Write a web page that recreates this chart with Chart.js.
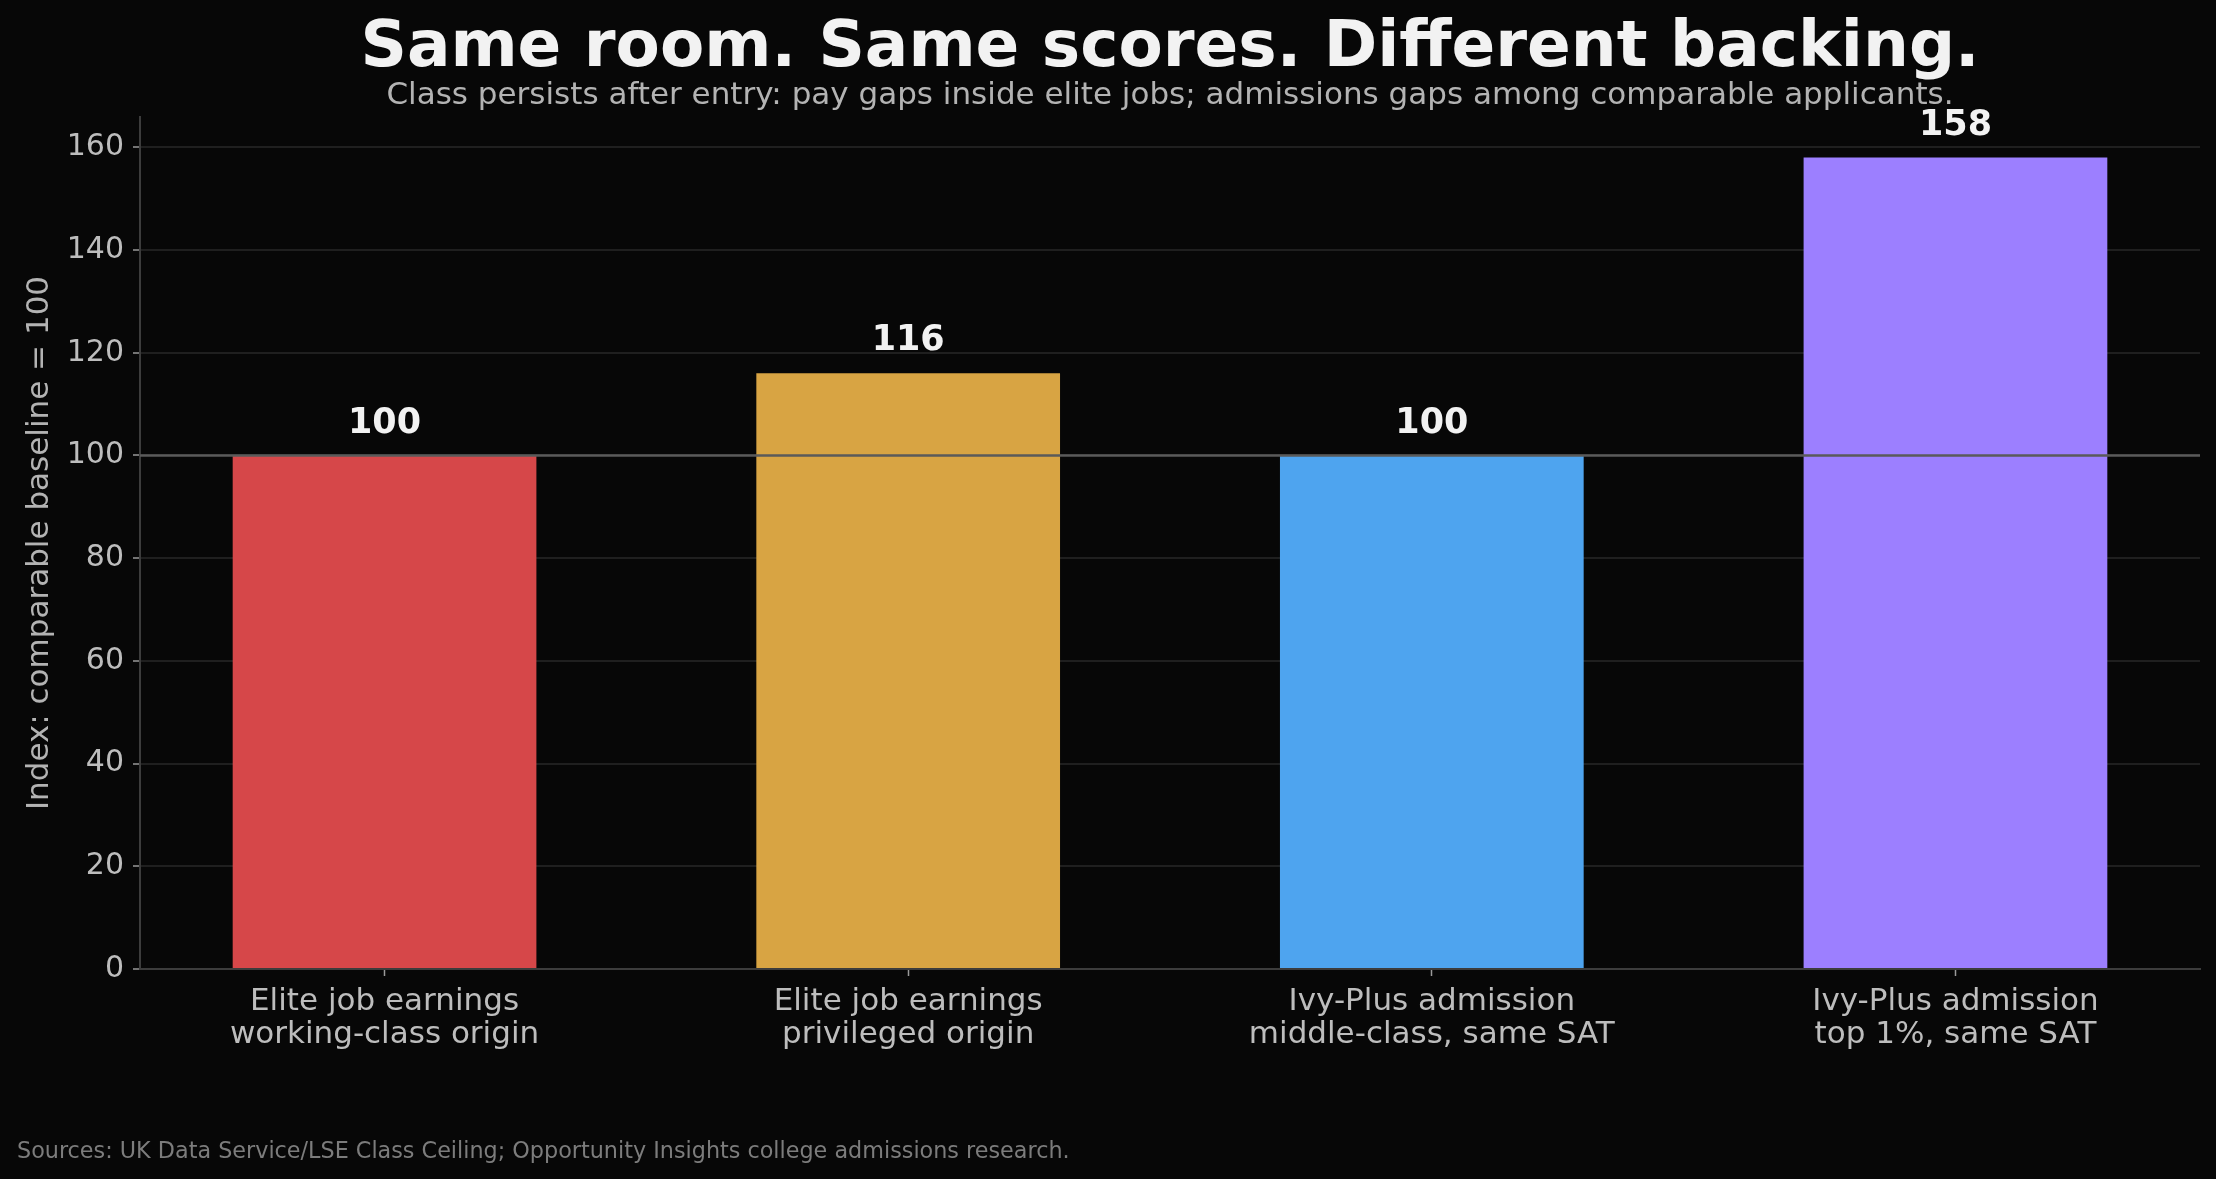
<!DOCTYPE html>
<html>
<head>
<meta charset="utf-8">
<script src="https://cdn.jsdelivr.net/npm/chart.js@4.4.1/dist/chart.umd.min.js"></script>
<style>
  html, body { margin: 0; padding: 0; background: #070707; }
  canvas { display: block; }
</style>
</head>
<body>
<canvas id="chart" width="2216" height="1179"></canvas>
<script>
// category labels (two lines each)
const categories = [
  ['Elite job earnings', 'working-class origin'],
  ['Elite job earnings', 'privileged origin'],
  ['Ivy-Plus admission', 'middle-class, same SAT'],
  ['Ivy-Plus admission', 'top 1%, same SAT']
];
const values = [100, 116, 100, 158];
const barColors = ['#d64749', '#d8a443', '#4ea4ef', '#9c7fff'];
const baseline = 100;

const FONT = "'DejaVu Sans', sans-serif";
const canvas = document.getElementById('chart');
const ctx = canvas.getContext('2d');

const bgPlugin = {
  id: 'bg',
  beforeDraw(chart) {
    const c = chart.ctx;
    c.save();
    c.fillStyle = '#070707';
    c.fillRect(0, 0, chart.width, chart.height);
    c.restore();
  }
};

// reference line at 100 + value labels + source note
const extras = {
  id: 'extras',
  afterDatasetsDraw(chart) {
    const c = chart.ctx;
    const y = chart.scales.y.getPixelForValue(baseline);
    const area = chart.chartArea;
    c.save();
    c.strokeStyle = '#5a5a5a';
    c.lineWidth = 2.5;
    c.beginPath();
    c.moveTo(area.left, y);
    c.lineTo(area.right, y);
    c.stroke();

    c.fillStyle = '#f2f2f2';
    c.font = 'bold 35px ' + FONT;
    c.textAlign = 'center';
    c.textBaseline = 'middle';
    chart.getDatasetMeta(0).data.forEach((bar, i) => {
      c.fillText(String(values[i]), bar.x, bar.y - 32);
    });
    c.restore();
  },
  afterDraw(chart) {
    const c = chart.ctx;
    c.save();
    c.fillStyle = '#7c7c7c';
    c.font = '22.3px ' + FONT;
    c.textAlign = 'left';
    c.textBaseline = 'middle';
    c.fillText('Sources: UK Data Service/LSE Class Ceiling; Opportunity Insights college admissions research.', 17, 1152);
    c.restore();
  }
};

new Chart(ctx, {
  type: 'bar',
  data: {
    datasets: [{
      data: values.map((v, i) => ({ x: i, y: v })),
      backgroundColor: barColors,
      borderWidth: 0,
      barPercentage: 0.58,
      categoryPercentage: 1.0
    }]
  },
  options: {
    responsive: false,
    animation: false,
    layout: { padding: { left: 0, right: 16, top: 0, bottom: 0 } },
    plugins: {
      legend: { display: false },
      tooltip: { enabled: false },
      title: {
        display: true,
        text: 'Same room. Same scores. Different backing.',
        color: '#f2f2f2',
        fullSize: false,
        font: { family: FONT, size: 64.5, weight: 'bold', lineHeight: 0.98 },
        padding: { top: 17.5, bottom: 0 }
      },
      subtitle: {
        display: true,
        text: 'Class persists after entry: pay gaps inside elite jobs; admissions gaps among comparable applicants.',
        color: '#b3b3b3',
        fullSize: false,
        font: { family: FONT, size: 31, lineHeight: 1.0 },
        padding: { top: 0, bottom: 5.3 }
      }
    },
    scales: {
      x: {
        type: 'linear',
        offset: false,
        min: -0.467,
        max: 3.467,
        afterFit: s => { s.height = 210; },
        afterBuildTicks: s => { s.ticks = categories.map((c, i) => ({ value: i })); },
        grid: {
          offset: false,
          drawOnChartArea: false,
          drawTicks: true,
          tickLength: 7,
          tickColor: '#9a9a9a',
          tickWidth: 1.5
        },
        border: { color: '#3c3c3c', width: 2 },
        ticks: {
          color: '#bdbdbd',
          font: { family: FONT, size: 31, lineHeight: 1.08 },
          padding: 9,
          maxRotation: 0,
          autoSkip: false,
          callback: v => categories[v]
        }
      },
      y: {
        min: 0,
        max: 165.9,
        z: 1,
        afterFit: s => { s.width = 140; },
        grid: {
          color: 'rgba(60,60,60,0.47)',
          lineWidth: 2,
          drawTicks: true,
          tickLength: 7,
          tickColor: '#9a9a9a',
          tickWidth: 1.5
        },
        border: { color: '#3c3c3c', width: 2 },
        ticks: {
          stepSize: 20,
          includeBounds: false,
          color: '#bdbdbd',
          font: { family: FONT, size: 30 },
          padding: 9
        },
        title: {
          display: true,
          text: 'Index: comparable baseline = 100',
          color: '#b3b3b3',
          font: { family: FONT, size: 31, lineHeight: 1.0 },
          padding: { top: 24.5, bottom: 0 }
        }
      }
    }
  },
  plugins: [bgPlugin, extras]
});
</script>
</body>
</html>
